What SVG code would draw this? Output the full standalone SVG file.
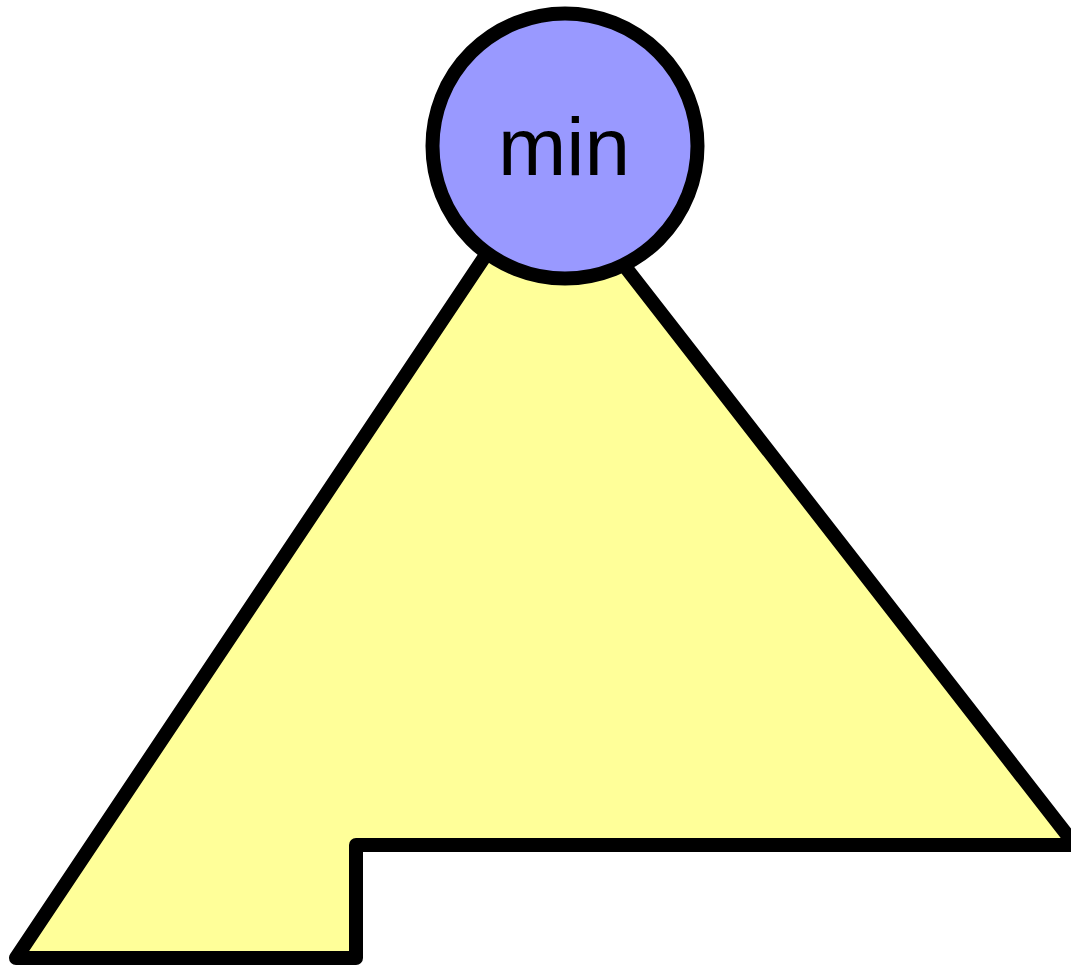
<svg xmlns="http://www.w3.org/2000/svg" width="1071" height="967" viewBox="0 0 1071 967">
<style>
.shape{stroke:#000;stroke-width:14;stroke-linejoin:round}
.lbl{font-family:"Liberation Sans",Arial,sans-serif;font-size:82px;fill:#000;text-anchor:middle}
</style>
<rect width="1071" height="967" fill="#fff"/>
<g id="tree">
<polygon class="shape" fill="#ffff99" points="546,165 1075,845 356,845 356,958 16,958"/>
</g>
<g id="min">
<circle class="shape" fill="#9999ff" cx="565" cy="146" r="132.5"/>
<text class="lbl" x="564" y="175">min</text>
</g>
<g id="connectors"/>
</svg>
